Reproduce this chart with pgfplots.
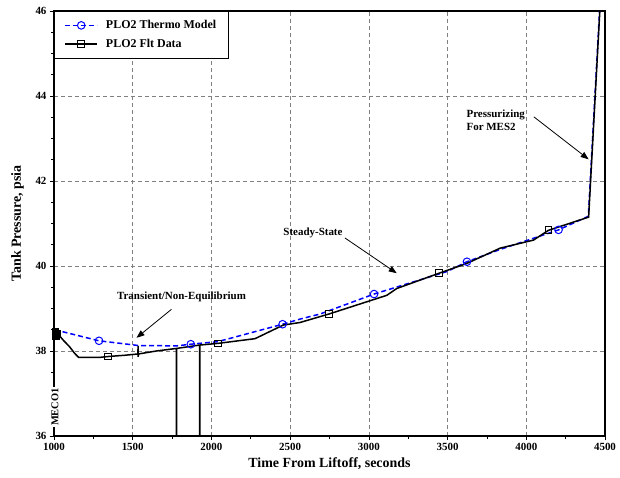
\documentclass[border=0pt]{standalone}
\usepackage{fontspec}
\setmainfont{Liberation Serif}
\usepackage{pgfplots}
\pgfplotsset{compat=1.18}
\usetikzlibrary{arrows.meta}

\begin{document}
\begin{tikzpicture}
\begin{axis}[
    name=ax,
    scale only axis,
    width=551bp, height=425bp,
    xmin=1000, xmax=4500,
    ymin=36, ymax=46,
    xtick={1000,1500,...,4500},
    ytick={36,38,...,46},
    minor x tick num=1,
    minor y tick num=3,
    tick align=outside,
    xtick pos=bottom, ytick pos=left,
    major tick length=4bp, minor tick length=3bp,
    axis line style={line width=1.2bp},
    tick style={black, line width=0.6bp},
    grid=major,
    major grid style={gray, dash pattern=on 4bp off 3bp, line width=0.5bp},
    /pgf/number format/assume math mode=true,
    /pgf/number format/1000 sep={},
    ticklabel style={font=\fontsize{11}{12}\selectfont\bfseries},
    xlabel={Time From Liftoff, seconds},
    ylabel={Tank Pressure, psia},
    every axis x label/.style={at={(axis description cs:0.5,-0.064)}, anchor=center, font=\fontsize{14}{16}\selectfont\bfseries},
    every axis y label/.style={at={(axis description cs:-0.066,0.5)}, rotate=90, anchor=center, font=\fontsize{14}{16}\selectfont\bfseries},
    legend style={at={(0,1)}, anchor=north west, draw=black, line width=1bp,
        font=\fontsize{12}{14}\selectfont\bfseries, inner xsep=10bp, inner ysep=7bp, row sep=5bp,
        cells={anchor=west}, /tikz/every odd column/.append style={column sep=6bp}},
    legend cell align=left,
    legend image code/.code={\draw[mark repeat=2, mark phase=2, #1]
        plot coordinates {(0bp,0bp) (16bp,0bp) (32bp,0bp)};},
]
% PLO2 thermo model
\addplot[blue, line width=1.5bp, dash pattern=on 5bp off 3bp,
    mark=o, mark size=3.8bp, mark options={solid, fill=white, line width=1bp},
    mark indices={2,5,7,10,12,14}]
coordinates {
 (1005,38.50) (1286,38.24) (1534,38.13) (1778,38.12) (1869,38.16) (2041,38.22)
 (2452,38.63) (2562,38.75) (2690,38.87) (3033,39.34) (3496,39.87) (3623,40.10)
 (3834,40.39) (4205,40.85) (4394,41.17) (4470,46.30)
};
\addlegendentry{PLO2 Thermo Model}
% PLO2 flight data
\addplot[black, line width=1.5bp,
    mark=square, mark size=3.3bp, mark options={solid, fill=white, line width=1bp},
    mark indices={2,10,21,25,28,32}]
coordinates {
 (1005,38.47) (1012,38.35) (1018,38.42) (1030,38.38) (1060,38.25) (1099,38.10)
 (1130,37.95) (1156,37.85) (1290,37.85) (1343,37.87) (1450,37.90) (1533,37.93)
 (1534,38.12) (1535,37.86) (1536,37.93) (1650,38.00) (1777,38.06) (1778,35.00)
 (1779,38.06) (1925,38.14) (1926,35.00) (1927,38.14) (2043,38.18) (2277,38.29)
 (2456,38.61) (2562,38.67) (2746,38.87) (3114,39.31) (3177,39.47) (3446,39.83)
 (3622,40.06) (3834,40.42) (4046,40.61) (4141,40.84) (4396,41.15) (4470,46.20)
};
\addlegendentry{PLO2 Flt Data}
% dense flight-data markers right after MECO1
\addplot[only marks, black, mark=square*, mark size=3bp, forget plot]
coordinates {(1005,38.47) (1010,38.40) (1015,38.35) (1018,38.42)};

\node[font=\fontsize{11}{12}\selectfont\bfseries] at (axis cs:1810,39.28) {Transient/Non-Equilibrium};
\draw[-{Triangle[length=8bp,width=6bp]}, line width=0.8bp] (axis cs:1746,38.98) -- (axis cs:1524,38.31);
\node[font=\fontsize{11}{12}\selectfont\bfseries] at (axis cs:2645,40.78) {Steady-State};
\draw[-{Triangle[length=8bp,width=6bp]}, line width=0.8bp] (axis cs:2848,40.66) -- (axis cs:3177,39.83);
\node[font=\fontsize{11}{13}\selectfont\bfseries, align=left] at (axis cs:3806,43.42) {Pressurizing\\For MES2};
\draw[-{Triangle[length=8bp,width=6bp]}, line width=0.8bp] (axis cs:4048,43.51) -- (axis cs:4396,42.51);
\end{axis}
\node[font=\fontsize{10.5}{12}\selectfont\bfseries, rotate=90, fill=white, inner sep=1bp]
    at ([shift={(1bp,29bp)}]ax.south west) {MECO1};
\path ([shift={(-54bp,-42bp)}]ax.south west) rectangle ([shift={(566bp,436bp)}]ax.south west);
\end{tikzpicture}
\end{document}
